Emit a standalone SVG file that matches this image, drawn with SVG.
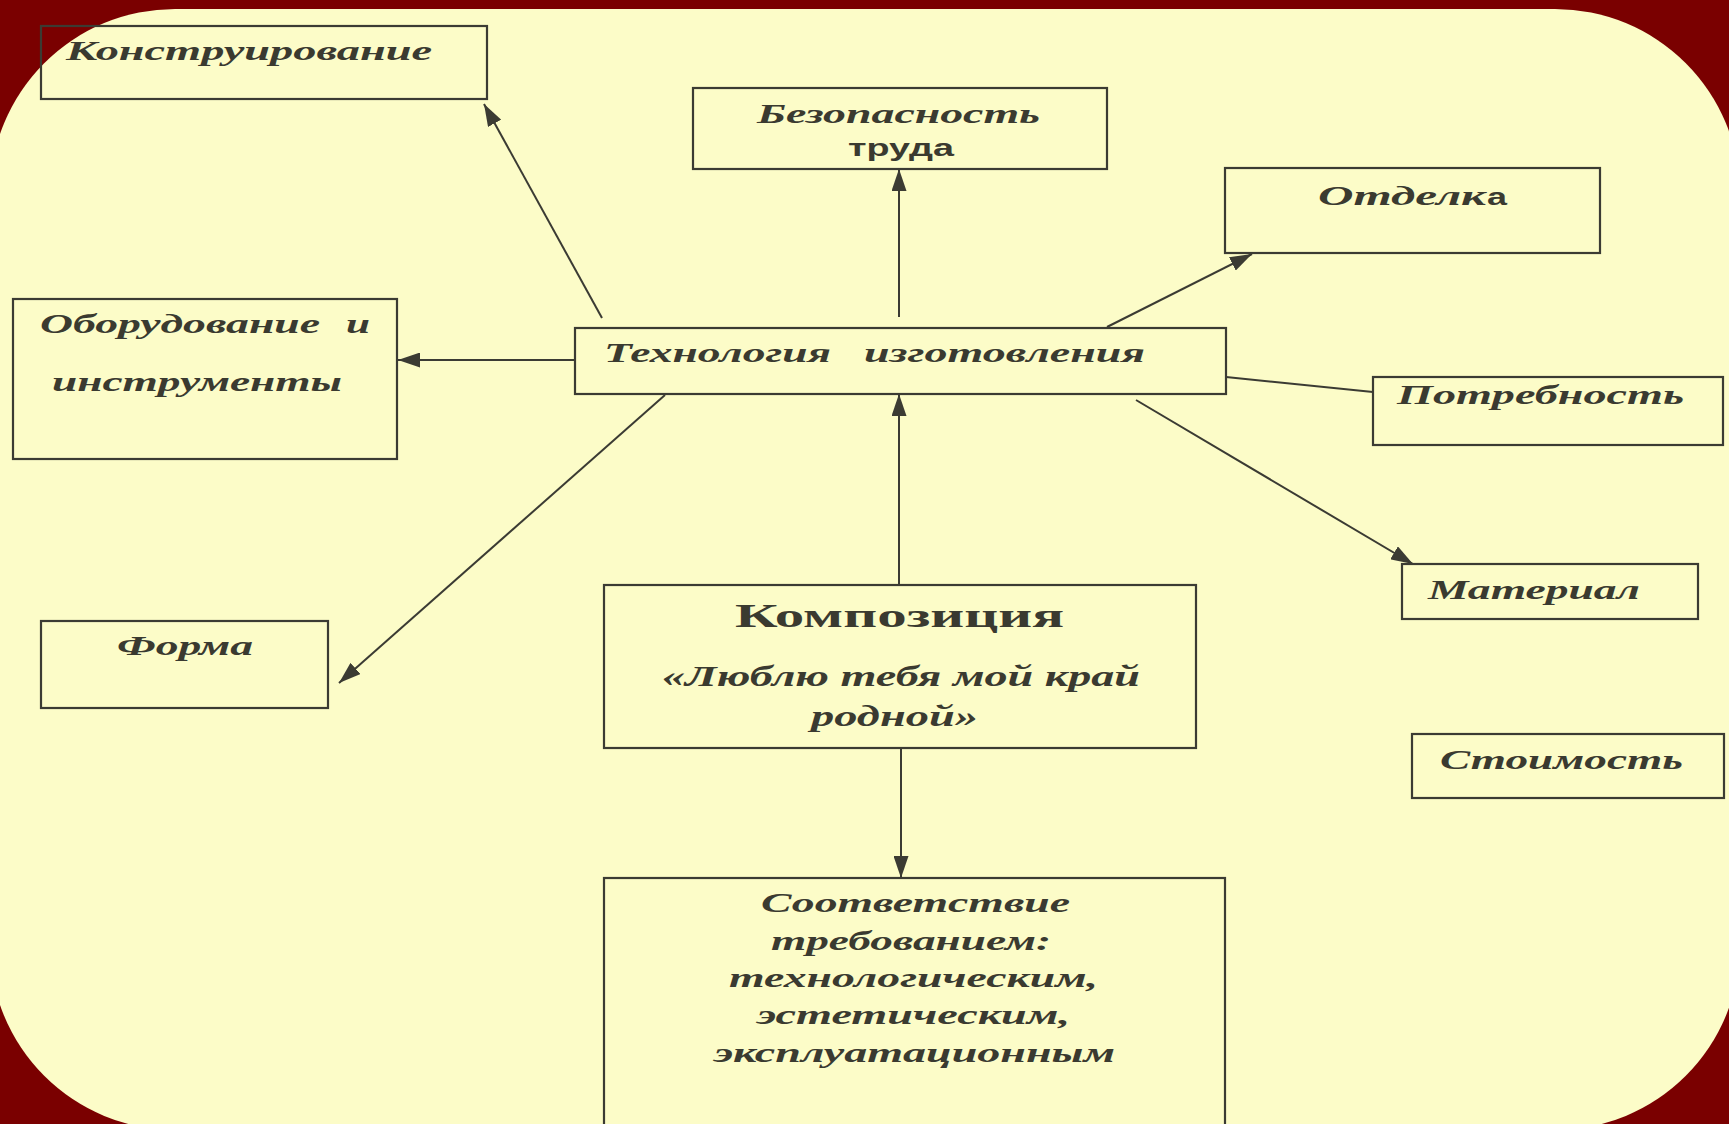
<svg xmlns="http://www.w3.org/2000/svg" width="1729" height="1124" viewBox="0 0 1729 1124">
<style>
.box{fill:none;stroke:#3b3b33;stroke-width:2.2}
.lbl{font-family:"Liberation Serif","Times New Roman",serif;font-weight:bold;font-style:italic;font-size:28px;fill:#3a3a30}
.up{font-family:"Liberation Serif","Times New Roman",serif;font-weight:bold;font-style:normal;font-size:34px;fill:#3a3a30}
.sans{font-family:"Liberation Sans",Arial,sans-serif;font-weight:bold;font-style:normal;font-size:24px;fill:#3a3a30}
.con{stroke:#3b3b33;stroke-width:2;fill:none}
.arr{marker-end:url(#ah)}
</style>
<defs>
<marker id="ah" markerUnits="userSpaceOnUse" markerWidth="23" markerHeight="15" refX="22" refY="7.5" orient="auto">
<path d="M0,0 L22,7.5 L0,15 z" fill="#3b3b33"/>
</marker>
</defs>
<rect x="0" y="0" width="1729" height="1124" fill="#7a0000"/>
<rect x="-10" y="9" width="1750" height="1121" rx="185" ry="185" fill="#fcfcc8"/>

<g id="connectors">
<line class="con arr" x1="602" y1="318" x2="484" y2="104"/>
<line class="con arr" x1="899" y1="317" x2="899" y2="169"/>
<line class="con arr" x1="575" y1="360" x2="398" y2="360"/>
<line class="con arr" x1="665" y1="395" x2="339" y2="683"/>
<line class="con arr" x1="899" y1="585" x2="899" y2="394"/>
<line class="con arr" x1="901" y1="748" x2="901" y2="878"/>
<line class="con arr" x1="1107" y1="327" x2="1252" y2="254"/>
<line class="con" x1="1226" y1="377" x2="1373" y2="392"/>
<line class="con arr" x1="1136" y1="400" x2="1413" y2="564"/>
</g>

<g id="n-konstr">
<rect class="box" x="41" y="26" width="446" height="73"/>
<text class="lbl" x="66" y="60" textLength="366" lengthAdjust="spacingAndGlyphs">Конструирование</text>
</g>
<g id="n-oborud">
<rect class="box" x="13" y="299" width="384" height="160"/>
<text class="lbl" y="333"><tspan x="40" textLength="280" lengthAdjust="spacingAndGlyphs">Оборудование</tspan><tspan x="346" textLength="24" lengthAdjust="spacingAndGlyphs">и</tspan></text>
<text class="lbl" x="52" y="391" textLength="290" lengthAdjust="spacingAndGlyphs">инструменты</text>
</g>
<g id="n-tekhn">
<rect class="box" x="575" y="328" width="651" height="66"/>
<text class="lbl" y="362"><tspan x="604" textLength="227" lengthAdjust="spacingAndGlyphs">Технология</tspan><tspan x="864" textLength="281" lengthAdjust="spacingAndGlyphs">изготовления</tspan></text>
</g>
<g id="n-bezop">
<rect class="box" x="693" y="88" width="414" height="81"/>
<text class="lbl" x="757" y="123" textLength="283" lengthAdjust="spacingAndGlyphs">Безопасность</text>
<text class="sans" x="848" y="156" textLength="106" lengthAdjust="spacingAndGlyphs">труда</text>
</g>
<g id="n-otdelka">
<rect class="box" x="1225" y="168" width="375" height="85"/>
<text class="lbl" y="205"><tspan x="1318" textLength="168" lengthAdjust="spacingAndGlyphs">Отделк</tspan><tspan class="sans" x="1487" textLength="20" lengthAdjust="spacingAndGlyphs">а</tspan></text>
</g>
<g id="n-potreb">
<rect class="box" x="1373" y="377" width="350" height="68"/>
<text class="lbl" x="1397" y="404" textLength="287" lengthAdjust="spacingAndGlyphs">Потребность</text>
</g>
<g id="n-material">
<rect class="box" x="1402" y="564" width="296" height="55"/>
<text class="lbl" x="1428" y="599" textLength="212" lengthAdjust="spacingAndGlyphs">Материал</text>
</g>
<g id="n-stoim">
<rect class="box" x="1412" y="734" width="312" height="64"/>
<text class="lbl" x="1440" y="769" textLength="243" lengthAdjust="spacingAndGlyphs">Стоимость</text>
</g>
<g id="n-forma">
<rect class="box" x="41" y="621" width="287" height="87"/>
<text class="lbl" x="117" y="655" textLength="136" lengthAdjust="spacingAndGlyphs">Форма</text>
</g>
<g id="n-kompoz">
<rect class="box" x="604" y="585" width="592" height="163"/>
<text class="up" x="735" y="627" textLength="329" lengthAdjust="spacingAndGlyphs">Композиция</text>
<text class="lbl" style="font-size:30px" x="662" y="686" textLength="478" lengthAdjust="spacingAndGlyphs">«Люблю тебя мой край</text>
<text class="lbl" style="font-size:30px" x="811" y="726" textLength="167" lengthAdjust="spacingAndGlyphs">родной»</text>
</g>
<g id="n-sootv">
<rect class="box" x="604" y="878" width="621" height="270"/>
<text class="lbl" x="761" y="912" textLength="309" lengthAdjust="spacingAndGlyphs">Соответствие</text>
<text class="lbl" x="771" y="950" textLength="280" lengthAdjust="spacingAndGlyphs">требованием:</text>
<text class="lbl" x="729" y="987" textLength="369" lengthAdjust="spacingAndGlyphs">технологическим,</text>
<text class="lbl" x="757" y="1024" textLength="313" lengthAdjust="spacingAndGlyphs">эстетическим,</text>
<text class="lbl" x="714" y="1062" textLength="401" lengthAdjust="spacingAndGlyphs">эксплуатационным</text>
</g>
</svg>
